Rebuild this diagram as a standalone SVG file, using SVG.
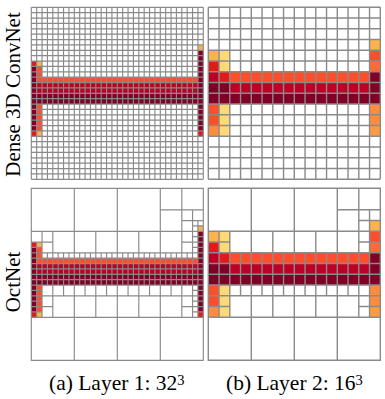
<svg xmlns="http://www.w3.org/2000/svg" xmlns:xlink="http://www.w3.org/1999/xlink" width="385" height="399" viewBox="0 0 385 399">
<style>
.p{fill:#fed976}.lo{fill:#feb24c}.o{fill:#fd8d3c}.or{fill:#fc4e2a}.r{fill:#e31a1c}.c{fill:#bd0026}.m{fill:#800026}
.ga{fill:none;stroke:#8a8a8a;stroke-width:1.15}
.gb{fill:none;stroke:#8a8a8a;stroke-width:1.4}
.lbl{font-family:"Liberation Serif","Times New Roman",serif;font-size:21px;fill:#000}
.cap{font-family:"Liberation Serif","Times New Roman",serif;font-size:21.5px;fill:#000}
</style>
<defs>
<g id="colA">
<rect class="r" x="0" y="10" width="1" height="1"/>
<rect class="m" x="0" y="11" width="1" height="12"/>
<rect class="r" x="0" y="23" width="1" height="1"/>
<rect class="lo" x="1" y="10" width="1" height="1"/>
<rect class="or" x="1" y="11" width="1" height="2"/>
<rect class="or" x="1" y="18" width="1" height="5"/>
<rect class="lo" x="1" y="23" width="1" height="1"/>
<rect class="or" x="1" y="13" width="30" height="1"/>
<rect class="c" x="1" y="14" width="30" height="2"/>
<rect class="m" x="1" y="16" width="30" height="2"/>
<rect class="lo" x="31" y="7" width="1" height="1"/>
<rect class="m" x="31" y="8" width="1" height="15"/>
<rect class="r" x="31" y="23" width="1" height="1"/>
</g>
<g id="colB">
<rect class="lo" x="0" y="4" width="1" height="1"/>
<rect class="r" x="0" y="5" width="1" height="1"/>
<rect class="c" x="0" y="6" width="1" height="1"/>
<rect class="m" x="0" y="7" width="1" height="2"/>
<rect class="or" x="0" y="9" width="1" height="2"/>
<rect class="o" x="0" y="11" width="1" height="1"/>
<rect class="p" x="1" y="4" width="1" height="2"/>
<rect class="r" x="1" y="6" width="1" height="1"/>
<rect class="m" x="1" y="7" width="1" height="2"/>
<rect class="p" x="1" y="9" width="1" height="3"/>
<rect class="or" x="2" y="6" width="13" height="1"/>
<rect class="c" x="2" y="7" width="13" height="1"/>
<rect class="m" x="2" y="8" width="13" height="1"/>
<rect class="lo" x="15" y="3" width="1" height="1"/>
<rect class="or" x="15" y="4" width="1" height="1"/>
<rect fill="#fd6a33" x="15" y="5" width="1" height="1"/>
<rect class="m" x="15" y="6" width="1" height="3"/>
<rect class="o" x="15" y="9" width="1" height="2"/>
<rect fill="#fd9b40" x="15" y="11" width="1" height="1"/>
</g>
</defs>
<rect width="385" height="399" fill="#fff"/>

<g id="dense-layer1" transform="translate(31.3,7.3) scale(5.375)">
<use xlink:href="#colA"/>
<path class="ga" vector-effect="non-scaling-stroke" d="M0 0V32M1 0V32M2 0V32M3 0V32M4 0V32M5 0V32M6 0V32M7 0V32M8 0V32M9 0V32M10 0V32M11 0V32M12 0V32M13 0V32M14 0V32M15 0V32M16 0V32M17 0V32M18 0V32M19 0V32M20 0V32M21 0V32M22 0V32M23 0V32M24 0V32M25 0V32M26 0V32M27 0V32M28 0V32M29 0V32M30 0V32M31 0V32M32 0V32M0 0H32M0 1H32M0 2H32M0 3H32M0 4H32M0 5H32M0 6H32M0 7H32M0 8H32M0 9H32M0 10H32M0 11H32M0 12H32M0 13H32M0 14H32M0 15H32M0 16H32M0 17H32M0 18H32M0 19H32M0 20H32M0 21H32M0 22H32M0 23H32M0 24H32M0 25H32M0 26H32M0 27H32M0 28H32M0 29H32M0 30H32M0 31H32M0 32H32"/>
</g>

<g id="dense-layer2" transform="translate(208.3,7.3) scale(10.75)">
<use xlink:href="#colB"/>
<path class="gb" vector-effect="non-scaling-stroke" d="M0 0V16M1 0V16M2 0V16M3 0V16M4 0V16M5 0V16M6 0V16M7 0V16M8 0V16M9 0V16M10 0V16M11 0V16M12 0V16M13 0V16M14 0V16M15 0V16M16 0V16M0 0H16M0 1H16M0 2H16M0 3H16M0 4H16M0 5H16M0 6H16M0 7H16M0 8H16M0 9H16M0 10H16M0 11H16M0 12H16M0 13H16M0 14H16M0 15H16M0 16H16"/>
</g>

<g id="octnet-layer1" transform="translate(31.3,188.3) scale(5.375)">
<use xlink:href="#colA"/>
<path class="ga" vector-effect="non-scaling-stroke" d="M0 0H32V32H0ZM8 0V32M16 0V32M24 0V32M0 8H32M0 16H32M0 24H32M28 0V8M24 4H32M30 4V8M28 6H32M31 6V8M30 7H32M0 12H32M4 8V16M12 8V16M20 8V16M28 8V16M0 13H32M0 14H32M0 15H32M1 12V16M2 12V16M3 12V16M5 12V16M6 12V16M7 12V16M9 12V16M10 12V16M11 12V16M13 12V16M14 12V16M15 12V16M17 12V16M18 12V16M19 12V16M21 12V16M22 12V16M23 12V16M25 12V16M26 12V16M27 12V16M29 12V16M30 12V16M31 12V16M2 8V12M0 10H4M1 10V12M0 11H2M30 8V12M28 10H32M31 8V12M30 9H32M30 11H32M0 20H32M4 16V24M12 16V24M20 16V24M28 16V24M0 18H32M2 16V20M6 16V20M10 16V20M14 16V20M18 16V20M22 16V20M26 16V20M30 16V20M0 17H32M1 16V18M3 16V18M5 16V18M7 16V18M9 16V18M11 16V18M13 16V18M15 16V18M17 16V18M19 16V18M21 16V18M23 16V18M25 16V18M27 16V18M29 16V18M31 16V18M1 18V20M0 19H2M31 18V20M30 19H32M2 20V24M0 22H4M1 20V24M0 21H2M0 23H2M30 20V24M28 22H32M31 20V24M30 21H32M30 23H32"/>
</g>

<g id="octnet-layer2" transform="translate(208.3,188.3) scale(10.75)">
<use xlink:href="#colB"/>
<path class="gb" vector-effect="non-scaling-stroke" d="M0 0H16V16H0ZM4 0V16M8 0V16M12 0V16M0 4H16M0 8H16M0 12H16M14 0V4M12 2H16M15 2V4M14 3H16M0 6H16M2 4V8M6 4V8M10 4V8M14 4V8M0 7H16M1 6V8M3 6V8M5 6V8M7 6V8M9 6V8M11 6V8M13 6V8M15 6V8M1 4V6M0 5H2M15 4V6M14 5H16M0 10H16M2 8V12M6 8V12M10 8V12M14 8V12M0 9H16M1 8V10M3 8V10M5 8V10M7 8V10M9 8V10M11 8V10M13 8V10M15 8V10M1 10V12M0 11H2M15 10V12M14 11H16"/>
</g>

<g id="row-labels">
<text class="lbl" transform="translate(19.5,94.5) rotate(-90)" text-anchor="middle">Dense 3D ConvNet</text>
<text class="lbl" transform="translate(19.5,282) rotate(-90)" text-anchor="middle">OctNet</text>
</g>
<g id="captions">
<text class="cap" x="49" y="389.5">(a) Layer 1: 32<tspan font-size="14.5" dy="-5">3</tspan></text>
<text class="cap" x="226" y="389.5">(b) Layer 2: 16<tspan font-size="14.5" dy="-5">3</tspan></text>
</g>
</svg>
